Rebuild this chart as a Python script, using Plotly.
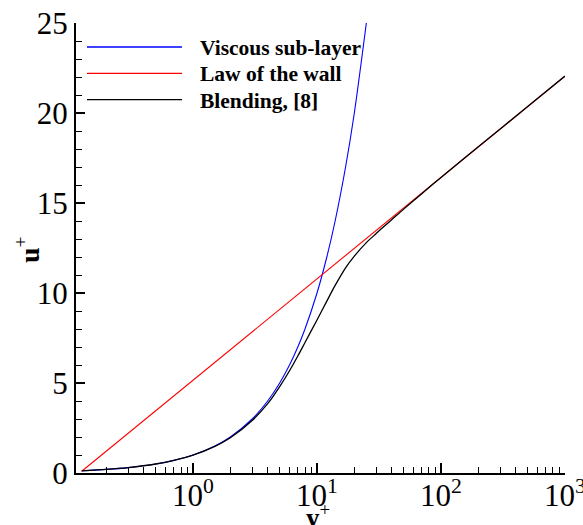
import plotly.graph_objects as go

# ---- data ----
visc_y = [0.1265, 0.2, 0.3, 0.5, 0.7, 1, 1.5, 2, 3, 4, 5, 6, 7, 8, 10, 12, 14, 17, 20, 25]
visc_u = [0.1265, 0.2, 0.3, 0.5, 0.7, 1, 1.5, 2, 3, 4, 5, 6, 7, 8, 10, 12, 14, 17, 20, 25]

wall_y = [0.1265, 1000]
wall_u = [0.1, 22.05]

blend_y = [0.1265, 0.2, 0.3, 0.5, 0.7, 1, 1.5, 2, 3, 4, 5, 6, 7, 8, 10, 12, 14, 17, 20,
           25, 30, 35, 40, 50, 70, 100, 200, 500, 1000]
blend_u = [0.12, 0.2, 0.3, 0.5, 0.7, 0.99, 1.48, 1.96, 2.92, 3.85, 4.8, 5.68, 6.5, 7.25,
           8.5, 9.55, 10.42, 11.4, 12.05, 12.8, 13.3, 13.72, 14.07, 14.66, 15.52, 16.42,
           18.12, 20.36, 22.05]

series_names = ["Viscous sub-layer", "Law of the wall", "Blending, [8]"]
series_colors = ["#0000ff", "#ff0000", "#000000"]

x_major = [1, 10, 100, 1000]
x_major_text = ["10<sup>0</sup>", "10<sup>1</sup>", "10<sup>2</sup>", "10<sup>3</sup>"]
x_minor = [m * d for d in (0.1, 1, 10, 100) for m in range(2, 10)]
y_major = [0, 5, 10, 15, 20, 25]

# ---- layout geometry (pixels) ----
W, H = 583, 525
L, R, T, B = 76, 18, 23, 52
PW, PH = W - L - R, H - T - B


def xp(px):
    return (px - L) / PW


def yp(py):
    return (H - B - py) / PH


FONT = "Liberation Serif, Times New Roman, serif"

fig = go.Figure()
for xs, us, name, col, w in [
    (visc_y, visc_u, series_names[0], series_colors[0], 1.1),
    (wall_y, wall_u, series_names[1], series_colors[1], 1.1),
    (blend_y, blend_u, series_names[2], series_colors[2], 1.3),
]:
    fig.add_trace(go.Scatter(x=xs, y=us, mode="lines", name=name,
                             line=dict(color=col, width=w, shape="spline", smoothing=0.8),
                             showlegend=False, cliponaxis=True))

# manual legend (long line samples)
shapes = []
annotations = []
for i, (name, col) in enumerate(zip(series_names, series_colors)):
    ypx = 47 + i * 26.3
    shapes.append(dict(type="line", xref="paper", yref="paper",
                       x0=xp(87), x1=xp(182), y0=yp(ypx), y1=yp(ypx),
                       line=dict(color=col, width=1.3)))
    annotations.append(dict(text="<b>%s</b>" % name, xref="paper", yref="paper",
                            x=xp(198), y=yp(ypx + 1), xanchor="left", yanchor="middle",
                            showarrow=False, font=dict(family=FONT, size=21.5, color="black")))

# axis titles
annotations.append(dict(text="<b>u</b><sup>+</sup>", xref="paper", yref="paper",
                        x=xp(27), y=yp(250), xanchor="center", yanchor="middle",
                        textangle=-90, showarrow=False,
                        font=dict(family=FONT, size=28, color="black")))
annotations.append(dict(text="<b>y</b><sup>+</sup>", xref="paper", yref="paper",
                        x=xp(318), y=yp(516), xanchor="center", yanchor="middle",
                        showarrow=False,
                        font=dict(family=FONT, size=27, color="black")))

fig.update_layout(
    width=W, height=H,
    margin=dict(l=L, r=R, t=T, b=B, pad=0, autoexpand=False),
    paper_bgcolor="white", plot_bgcolor="white",
    shapes=shapes, annotations=annotations,
    font=dict(family=FONT, color="black"),
)

fig.update_xaxes(
    type="log", range=[-0.944, 3.0003], automargin=False,
    showgrid=False, zeroline=False,
    showline=True, linecolor="black", linewidth=2,
    ticks="inside", ticklen=10, tickwidth=1.5, tickcolor="black",
    tickvals=x_major, ticktext=x_major_text, ticklabelstandoff=-6,
    ticklabeloverflow="allow",
    tickfont=dict(family=FONT, size=31, color="black"),
    minor=dict(tickvals=x_minor, ticks="inside", ticklen=6, tickwidth=1.2,
               tickcolor="black", showgrid=False),
)
fig.update_yaxes(
    range=[0, 25], automargin=False,
    showgrid=False, zeroline=False,
    showline=True, linecolor="black", linewidth=2,
    ticks="inside", ticklen=9, tickwidth=1.5, tickcolor="black",
    tickvals=y_major, ticklabeloverflow="allow",
    tickfont=dict(family=FONT, size=31, color="black"),
    minor=dict(dtick=1, ticks="inside", ticklen=6, tickwidth=1.2,
               tickcolor="black", showgrid=False),
)

fig.write_html("out.html", config={"displayModeBar": False},
               post_script="document.body.style.margin='0';document.body.style.overflow='hidden';")
